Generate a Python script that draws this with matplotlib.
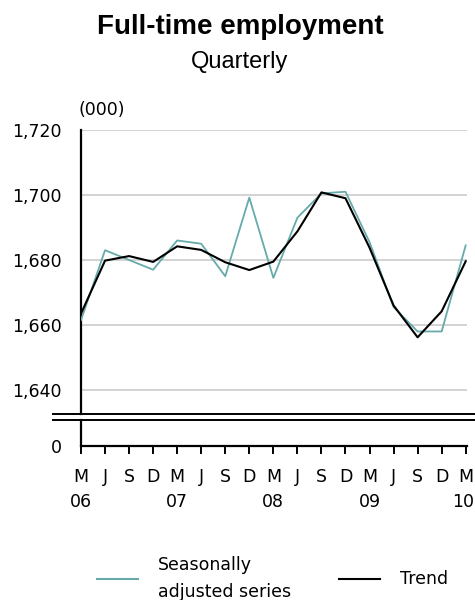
import matplotlib
matplotlib.use("Agg")
import matplotlib.pyplot as plt
from matplotlib.lines import Line2D

months = ["M", "J", "S", "D", "M", "J", "S", "D", "M", "J", "S", "D", "M", "J", "S", "D", "M"]
years = ["06", "07", "08", "09", "10"]
year_pos = [0, 4, 8, 12, 16]
seasonally_adjusted = [1661.5, 1683.0, 1680.0, 1677.0, 1686.0, 1685.0, 1675.0, 1699.2, 1674.5,
                       1693.0, 1700.5, 1701.0, 1685.5, 1665.5, 1658.0, 1658.0, 1684.5]
trend = [1663.5, 1679.8, 1681.2, 1679.4, 1684.2, 1683.1, 1679.3, 1676.9, 1679.5,
         1688.8, 1700.8, 1699.0, 1683.8, 1666.0, 1656.2, 1664.2, 1679.6]
yticks = [1640, 1660, 1680, 1700, 1720]
ytick_labels = ["1,640", "1,660", "1,680", "1,700", "1,720"]

W, H = 475, 600
TEAL = "#66aaaa"
GRID = "#cccccc"
FONT = "DejaVu Sans"
plt.rcParams["font.family"] = [FONT]

fig = plt.figure(figsize=(W / 100, H / 100), dpi=100)

def fx(px):
    return px / W

def fy(py):
    return 1 - py / H

left, right = 81, 467
x = list(range(len(months)))
xmax = 16 * (right - left) / (465.7 - left)

# main axes
ax = fig.add_axes([fx(left), fy(414), fx(right - left), (414 - 130) / H])
ax.plot(x, seasonally_adjusted, color=TEAL, lw=1.3, zorder=3)
ax.plot(x, trend, color="black", lw=1.5, zorder=4)
ax.set_xlim(0, xmax)
ax.set_ylim(1632.6, 1720)
ax.set_yticks(yticks)
ax.set_yticklabels(ytick_labels)
ax.tick_params(axis="y", length=0, pad=14, labelsize=12.5)
ax.set_xticks([])
for s in ["top", "right", "bottom"]:
    ax.spines[s].set_visible(False)
ax.spines["left"].set_linewidth(1.6)
ax.grid(axis="y", color=GRID, lw=1.2)
ax.set_axisbelow(True)

# bottom (zero) axes
ax2 = fig.add_axes([fx(left), fy(446), fx(right - left), (446 - 420) / H])
ax2.set_xlim(0, xmax)
ax2.set_ylim(0, 10)
ax2.set_yticks([0])
ax2.set_yticklabels(["0"])
ax2.tick_params(axis="y", length=0, pad=14, labelsize=12.5)
ax2.set_xticks(x)
ax2.set_xticklabels(months)
ax2.tick_params(axis="x", length=6, width=1.4, pad=10, labelsize=12.5)
for s in ["top", "right"]:
    ax2.spines[s].set_visible(False)
ax2.spines["left"].set_linewidth(1.6)
ax2.spines["bottom"].set_linewidth(1.6)
ax2.patch.set_alpha(0)

for i, (xp, yl) in enumerate(zip(year_pos, years)):
    xd = ax2.transData.transform((xp, 0))[0]
    xf = xd / fig.dpi / fig.get_figwidth()
    if i == len(years) - 1:
        fig.text(0.999, fy(502), yl, ha="right", va="center", fontsize=12.5)
    else:
        fig.text(xf, fy(502), yl, ha="center", va="center", fontsize=12.5)

# axis break lines
for yy in (414, 420):
    fig.add_artist(Line2D([fx(53), 1.0], [fy(yy), fy(yy)], color="black", lw=1.4))

# unit label
fig.text(fx(78), fy(110), "(000)", ha="left", va="center", fontsize=12.5)

# titles
fig.text(0.505, fy(34), "Full-time employment", ha="center", va="baseline",
         fontsize=20, fontweight="bold", family="Liberation Sans")
fig.text(0.505, fy(68), "Quarterly", ha="center", va="baseline", fontsize=17,
         family="Liberation Sans")

# legend
fig.add_artist(Line2D([fx(97), fx(138)], [fy(579), fy(579)], color=TEAL, lw=1.5))
fig.text(fx(158), fy(570), "Seasonally", ha="left", va="baseline", fontsize=12.5)
fig.text(fx(158), fy(597), "adjusted series", ha="left", va="baseline", fontsize=12.5)
fig.add_artist(Line2D([fx(339), fx(380)], [fy(579), fy(579)], color="black", lw=1.5))
fig.text(fx(400), fy(584), "Trend", ha="left", va="baseline", fontsize=12.5)

fig.savefig("out.png", dpi=100)
